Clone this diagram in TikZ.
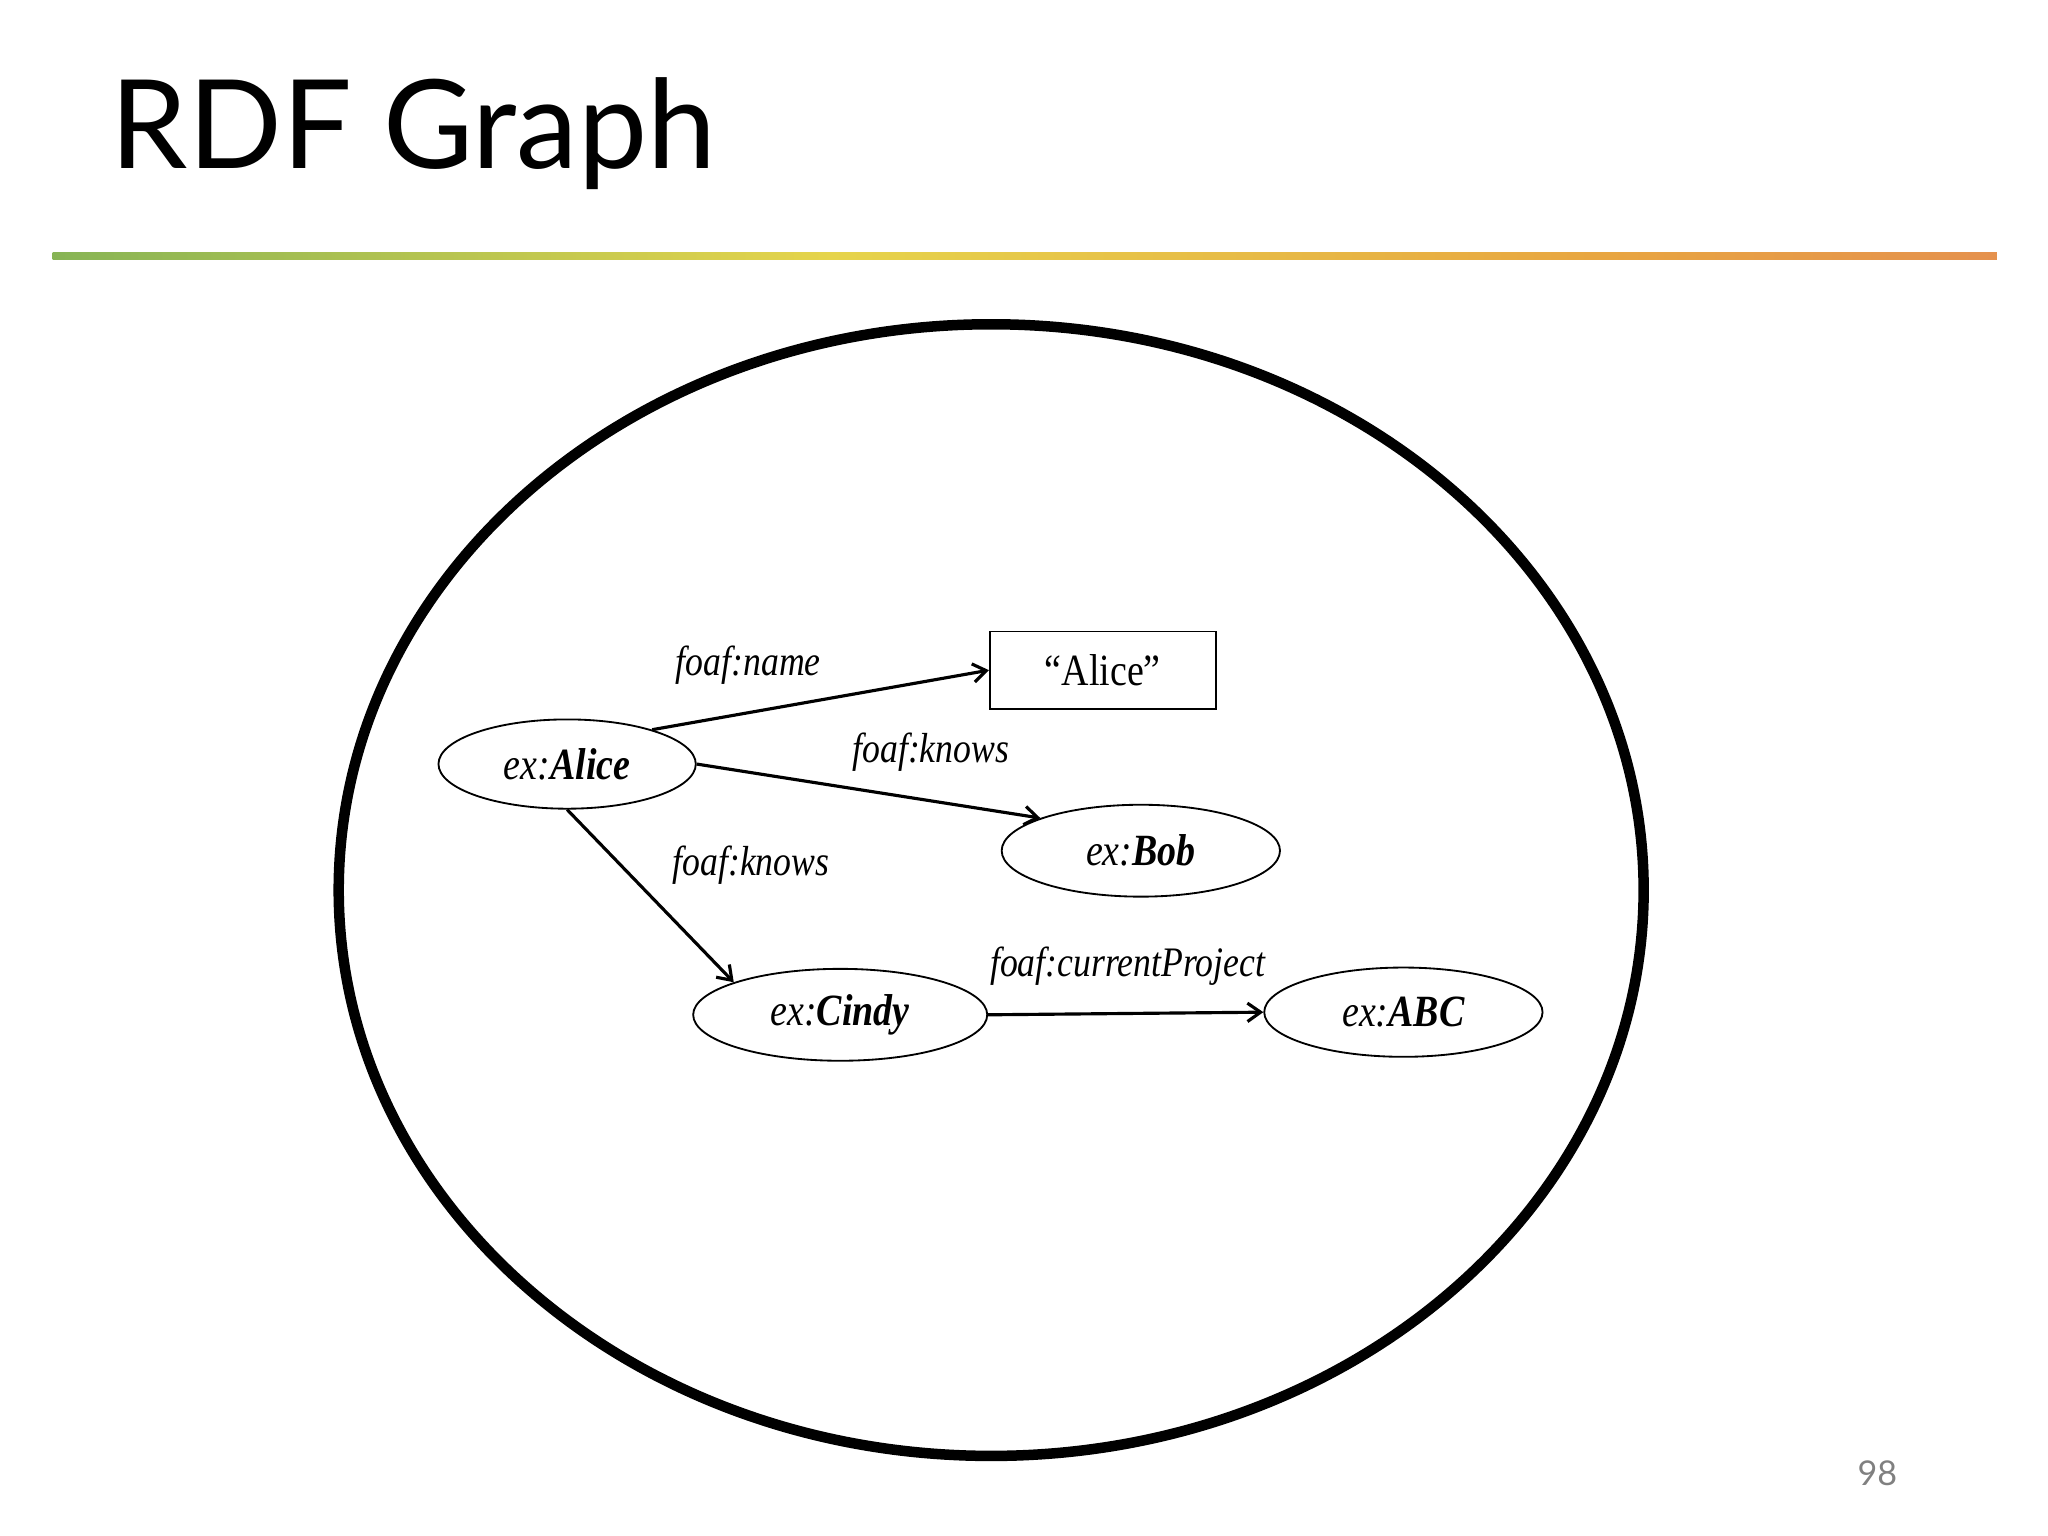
\documentclass[tikz,border=0pt]{standalone}
\usepackage{fontspec}
\setmainfont{Liberation Serif}
\newfontfamily\titlefont{Lato}
\usetikzlibrary{shapes.geometric,arrows.meta}
\definecolor{cA}{RGB}{95,150,150}
\definecolor{cB}{RGB}{135,180,85}
\definecolor{cC}{RGB}{230,212,75}
\definecolor{cD}{RGB}{232,165,65}
\definecolor{cE}{RGB}{225,125,90}
\definecolor{cF}{RGB}{200,100,80}
\pgfdeclarehorizontalshading{rainbowbar}{100bp}{
 color(0bp)=(cA); color(25bp)=(cB); color(45bp)=(cC);
 color(65bp)=(cD); color(85bp)=(cE); color(100bp)=(cF)}
\newcommand{\cnd}[1]{\scalebox{0.85}[1]{#1}}
\begin{document}
\begin{tikzpicture}[x=0.5pt,y=-0.5pt,
  res/.style={ellipse,draw,line width=0.7pt,inner sep=0pt},
  lab/.style={font=\fontsize{16}{18}\selectfont\itshape,inner sep=0pt},
  arr/.style={-{Straight Barb[length=5pt,width=7pt]},line width=1.2pt}]
\useasboundingbox (0,0) rectangle (1560,1170);
\node[anchor=base west,inner sep=0pt,font=\titlefont\fontsize{47}{50}\selectfont] (title) at (84,128) {RDF Graph};
\shade[shading=rainbowbar] (40,192.5) rectangle (1521,197.5);
\node[ellipse,draw,line width=4pt,minimum width=497pt,minimum height=431pt,inner sep=0pt] (graph) at (755,678) {};
\node[res,minimum width=98pt,minimum height=34pt] (alice) at (432,582) {\cnd{\fontsize{17}{19}\selectfont\itshape ex:\textbf{Alice}}};
\node[draw,line width=0.7pt,minimum width=86pt,minimum height=29.5pt,inner sep=0pt] (lit) at (840,510.5) {\cnd{\fontsize{17}{19}\selectfont ``Alice''}};
\node[res,minimum width=106pt,minimum height=35pt] (bob) at (869,648) {\cnd{\fontsize{17}{19}\selectfont\itshape ex:\textbf{Bob}}};
\node[res,minimum width=112pt,minimum height=35pt] (cindy) at (640,773) {\cnd{\fontsize{17}{19}\selectfont\itshape ex:\textbf{Cindy}}};
\node[res,minimum width=106pt,minimum height=34pt] (abc) at (1069,771) {\cnd{\fontsize{17}{19}\selectfont\itshape ex:\textbf{ABC}}};
\draw[arr] (alice.22) -- (lit.west);
\draw[arr] (alice.east) -- (bob.162);
\draw[arr] (alice.south) -- (cindy.163);
\draw[arr] (cindy.east) -- (abc.west);
\node[lab] (l1) at (570,507) {\cnd{foaf:name}};
\node[lab] (l2) at (709,573) {\cnd{foaf:knows}};
\node[lab] (l3) at (572,659) {\cnd{foaf:knows}};
\node[lab] (l4) at (859,736) {\cnd{foaf:currentProject}};
\node[font=\titlefont\fontsize{13}{15}\selectfont,text=gray] (pg) at (1430,1122) {98};
\end{tikzpicture}
\end{document}
